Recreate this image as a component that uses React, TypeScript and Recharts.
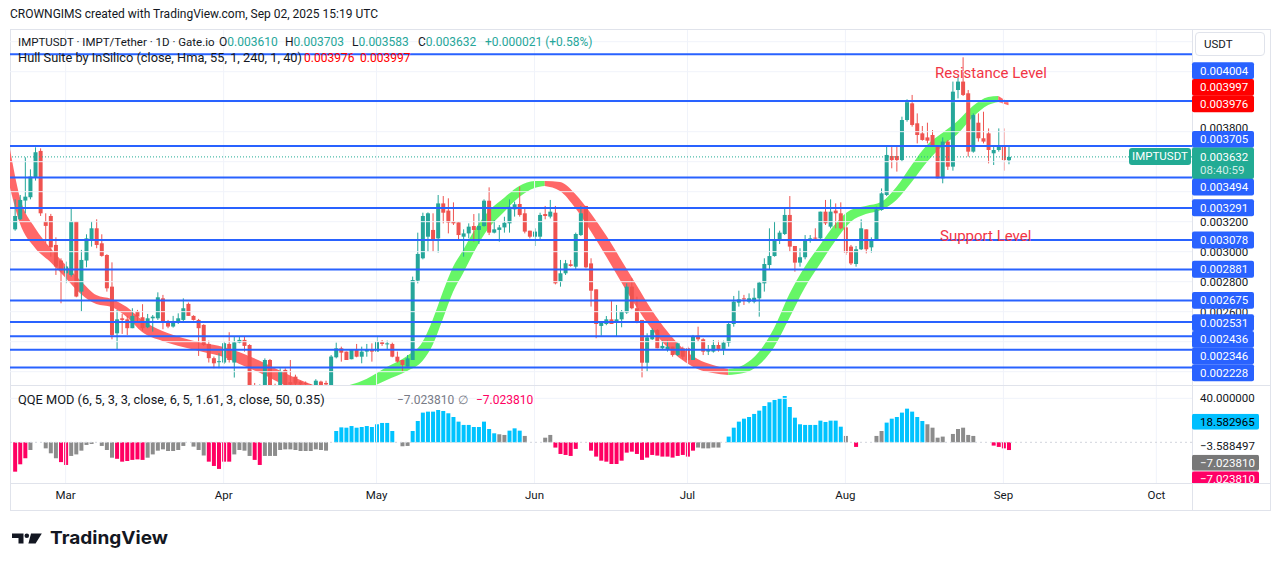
import React from "react";
import { Area, Bar, Cell, ComposedChart, ReferenceLine, XAxis, YAxis } from "recharts";

// day 0 = 19 Feb 2025, one daily candle per day up to 2 Sep 2025 (day 195)
const monthDays = [10, 41, 71, 102, 132, 163, 194, 224];
const monthLabels = ["Mar", "Apr", "May", "Jun", "Jul", "Aug", "Sep", "Oct"];

// IMPT/USDT daily candles, in micro-USDT (1e-6)
const opens = [
  3149, 3216, 3341, 3363, 3496, 3672, 3201, 3238, 3045, 2941, 2856, 2845, 3201, 2734, 2941, 3083, 3156, 3056, 2978, 2767,
  2456, 2556, 2549, 2490, 2601, 2563, 2496, 2556, 2556, 2689, 2534, 2501, 2527, 2545, 2652, 2572, 2545, 2512, 2385, 2290,
  2265, 2261, 2385, 2261, 2394, 2412, 2378, 2100, 2070, 2100, 2278, 2110, 2100, 2212, 2130, 2167, 2134, 2125, 2110, 2111,
  2134, 2125, 2111, 2296, 2356, 2334, 2283, 2345, 2300, 2334, 2345, 2334, 2396, 2382, 2385, 2300, 2278, 2234, 2278, 2807,
  2956, 3100, 3145, 3089, 3322, 3274, 3200, 3196, 3100, 3122, 3171, 3145, 3171, 3340, 3127, 3145, 3162, 3189, 3282, 3318,
  3256, 3140, 3100, 3100, 3251, 3234, 3260, 2800, 2856, 2916, 2900, 3111, 3305, 2922, 2749, 2505, 2518, 2549, 2527, 2549,
  2594, 2767, 2623, 2545, 2260, 2416, 2478, 2356, 2345, 2367, 2311, 2356, 2356, 2278, 2440, 2416, 2334, 2334, 2378, 2345,
  2394, 2518, 2660, 2689, 2667, 2667, 2689, 2789, 2911, 2971, 3074, 3118, 3245, 3038, 2927, 2963, 3074, 3094, 3089, 3267,
  3167, 3274, 3256, 3162, 3034, 2918, 3016, 3149, 3029, 3078, 3278, 3378, 3638, 3638, 3611, 3878, 3989, 3856, 3789, 3762,
  3778, 3711, 3489, 3734, 3567, 4078, 4134, 4056, 3667, 3860, 3756, 3789, 3656, 3678, 3705, 3610,
];
const highs = [
  3349, 3378, 3629, 3549, 3696, 3689, 3256, 3252, 3096, 2956, 2934, 3285, 3201, 3012, 3116, 3201, 3216, 3116, 2983, 2929,
  2612, 2585, 2572, 2623, 2612, 2650, 2585, 2578, 2729, 2712, 2545, 2572, 2589, 2689, 2661, 2576, 2552, 2516, 2407, 2301,
  2323, 2403, 2463, 2434, 2434, 2438, 2383, 2125, 2115, 2289, 2285, 2120, 2223, 2223, 2278, 2180, 2140, 2135, 2118, 2150,
  2140, 2140, 2311, 2394, 2367, 2334, 2345, 2385, 2367, 2385, 2389, 2434, 2411, 2407, 2394, 2334, 2278, 2311, 2834, 3127,
  3260, 3262, 3256, 3378, 3371, 3356, 3329, 3196, 3149, 3189, 3251, 3256, 3349, 3429, 3211, 3178, 3233, 3349, 3334, 3434,
  3289, 3140, 3156, 3260, 3305, 3345, 3305, 2945, 2945, 2945, 3127, 3305, 3305, 2956, 2749, 2527, 2571, 2671, 2645, 2611,
  2789, 2823, 2700, 2545, 2456, 2489, 2483, 2407, 2407, 2367, 2394, 2367, 2367, 2445, 2500, 2423, 2378, 2411, 2407, 2407,
  2534, 2705, 2740, 2712, 2722, 2756, 2800, 2956, 3156, 3200, 3140, 3296, 3371, 3038, 3023, 3111, 3111, 3156, 3267, 3345,
  3349, 3322, 3329, 3171, 3045, 3038, 3216, 3149, 3096, 3300, 3422, 3711, 3711, 3711, 3900, 4016, 4045, 3922, 3838, 3860,
  3811, 3711, 3762, 3745, 4134, 4167, 4296, 4078, 3922, 3922, 3933, 3822, 3711, 3822, 3822, 3703,
];
const lows = [
  3140, 3212, 3256, 3349, 3474, 3238, 3056, 2967, 2845, 2656, 2790, 2834, 2696, 2601, 2896, 3034, 3023, 2967, 2734, 2416,
  2350, 2452, 2445, 2490, 2527, 2474, 2490, 2467, 2545, 2483, 2490, 2494, 2518, 2534, 2572, 2541, 2305, 2372, 2261, 2223,
  2223, 2252, 2261, 2161, 2390, 2334, 2060, 2060, 2050, 2090, 2080, 2070, 2090, 2080, 2100, 2100, 2100, 2100, 2090, 2100,
  2100, 2100, 2100, 2289, 2267, 2278, 2283, 2296, 2256, 2300, 2267, 2334, 2372, 2345, 2296, 2260, 2200, 2234, 2278, 2789,
  2949, 3000, 3000, 2994, 3189, 3122, 3178, 3074, 2967, 3089, 3067, 3051, 3167, 3111, 3122, 3067, 3127, 3127, 3234, 3234,
  3122, 3089, 3038, 3078, 3216, 3222, 2782, 2767, 2845, 2900, 2878, 3105, 2889, 2634, 2423, 2440, 2510, 2518, 2434, 2496,
  2585, 2616, 2523, 2162, 2200, 2411, 2356, 2345, 2334, 2300, 2305, 2283, 2274, 2278, 2400, 2311, 2311, 2327, 2334, 2311,
  2367, 2500, 2634, 2645, 2656, 2656, 2567, 2734, 2878, 2967, 3051, 3111, 3000, 2867, 2900, 2949, 3060, 3078, 3078, 3178,
  3156, 3156, 3149, 2978, 2911, 2900, 3011, 2989, 2994, 3074, 3273, 3371, 3556, 3534, 3600, 3867, 3834, 3722, 3740, 3722,
  3700, 3489, 3456, 3545, 3540, 4022, 4038, 3634, 3660, 3734, 3722, 3589, 3578, 3667, 3540, 3583,
];
const closes = [
  3238, 3345, 3367, 3501, 3663, 3256, 3172, 3029, 2901, 2883, 2901, 3201, 2701, 2945, 3089, 3156, 3045, 2972, 2756, 2445,
  2549, 2545, 2490, 2572, 2567, 2490, 2556, 2567, 2696, 2534, 2501, 2538, 2556, 2623, 2572, 2545, 2490, 2378, 2290, 2256,
  2270, 2390, 2278, 2396, 2412, 2372, 2078, 2085, 2100, 2278, 2100, 2095, 2200, 2100, 2115, 2120, 2115, 2118, 2105, 2140,
  2111, 2115, 2301, 2356, 2327, 2278, 2345, 2300, 2334, 2345, 2334, 2400, 2385, 2389, 2300, 2267, 2245, 2289, 2811, 2985,
  3238, 3256, 3078, 3322, 3260, 3194, 3189, 3111, 3122, 3167, 3145, 3171, 3340, 3127, 3149, 3162, 3193, 3300, 3316, 3245,
  3134, 3100, 3134, 3245, 3238, 3267, 2789, 2856, 2923, 2905, 3118, 3256, 2896, 2740, 2518, 2527, 2549, 2518, 2549, 2600,
  2767, 2623, 2534, 2260, 2429, 2478, 2356, 2372, 2367, 2311, 2389, 2300, 2278, 2434, 2416, 2334, 2349, 2378, 2345, 2394,
  2518, 2667, 2682, 2682, 2689, 2693, 2794, 2918, 2971, 3078, 3127, 3245, 3034, 2927, 2963, 3082, 3089, 3087, 3267, 3189,
  3267, 3256, 3156, 2994, 2922, 3016, 3156, 3016, 3082, 3282, 3389, 3645, 3611, 3611, 3878, 4000, 3845, 3778, 3745, 3740,
  3711, 3489, 3734, 3567, 4067, 4134, 4045, 3667, 3911, 3756, 3734, 3678, 3678, 3705, 3611, 3632,
];

// Hull Suite band (both hull lines), micro-USDT, read at sparse days
const hullDays = [
  -1, 1, 4, 7, 10, 13, 16, 19, 22, 25, 29, 33, 37, 41, 45, 49, 53, 57, 61,
  61, 65, 69, 73, 77, 80, 82, 84, 86, 88, 90, 93, 96, 99, 102, 104,
  104, 107, 110, 113, 116, 119, 122, 125, 128, 131, 134, 137, 140,
  140, 143, 146, 149, 152, 155, 158, 161, 164, 167, 170, 173, 176, 179, 182, 185, 188, 191, 193,
  193, 195,
];
const hullLow = [
  3438, 3191, 3025, 2931, 2825, 2718, 2651, 2631, 2565, 2465, 2405, 2365, 2331, 2298, 2238, 2178, 2111, 2065, 2045,
  2045, 2051, 2085, 2145, 2205, 2271, 2378, 2551, 2731, 2858, 2991, 3158, 3265, 3365, 3425, 3438,
  3438, 3405, 3291, 3138, 2971, 2798, 2631, 2485, 2365, 2278, 2218, 2191, 2178,
  2178, 2191, 2245, 2365, 2558, 2758, 2918, 3071, 3198, 3251, 3278, 3345, 3465, 3598, 3705, 3785, 3898, 3978, 3998,
  3998, 3976,
];
const hullHigh = [
  3698, 3365, 3158, 3025, 2911, 2805, 2711, 2685, 2631, 2545, 2471, 2425, 2391, 2365, 2318, 2258, 2191, 2131, 2085,
  2085, 2105, 2151, 2231, 2305, 2398, 2545, 2731, 2898, 3011, 3131, 3271, 3358, 3438, 3471, 3471,
  3471, 3465, 3385, 3258, 3111, 2945, 2778, 2611, 2471, 2358, 2285, 2245, 2218,
  2218, 2245, 2331, 2491, 2718, 2898, 3045, 3185, 3278, 3305, 3331, 3431, 3578, 3711, 3791, 3871, 3971, 4031, 4038,
  4038, 3997,
];
const hullTrend = [
  ...Array(19).fill("down"),
  ...Array(16).fill("up"),
  ...Array(13).fill("down"),
  ...Array(19).fill("up"),
  ...Array(2).fill("down"),
];

// drawn horizontal levels, micro-USDT
const levels = [4316, 4004, 3705, 3494, 3291, 3078, 2881, 2675, 2531, 2436, 2346, 2228];
const gridPrices = [2200, 2400, 2600, 2800, 3000, 3200, 3400, 3600, 3800, 4000, 4200, 4400];
const lastClose = 3632;

// price scale labels: plain ticks first, then badges (stacked like TradingView)
const priceAxisText = [
  "0.003800", "0.003200", "0.003000", "0.002800", "0.002600",
  "0.004004", "0.003997", "0.003976", "0.003705", "0.003632", "0.003494", "0.003291",
  "0.003078", "0.002881", "0.002675", "0.002531", "0.002436", "0.002346", "0.002228",
];
const priceAxisAt = [
  3825, 3200, 3000, 2800, 2600,
  4207, 4096, 3985, 3749, 3632, 3431, 3293, 3078, 2883, 2676, 2527, 2416, 2305, 2193,
];
const priceAxisKind = [
  "text", "text", "text", "text", "text",
  "blue", "red", "red", "blue", "last", "blue", "blue", "blue", "blue", "blue", "blue", "blue", "blue", "blue",
];

// QQE MOD histogram, one value per day (null = no bar)
const qqeValues = [
  -26.7, -20, -14.5, -7, null, null, -5.5, -10, -14.5, -18,
  -20.6, -12.4, -11, -7.6, -2.4, -1.5, null, -3.3, -7, -14,
  -15, -17.6, -17, -16, -15.5, -16, -14, -11, -7.6, -6.4,
  -7.9, -7.9, -7, -3.3, null, -3.9, -7, -12, -17.6, -21.5,
  -24.2, -17.6, -17.6, -11, -7, -7.6, -12.4, -16, -20.6, -12.4,
  -12.4, -12.4, -7, -6.4, -6.4, -7, -7.9, -7.9, -7.9, -6.4,
  -7, -7.6, null, 10.3, 13.6, 13.3, 14.8, 13.3, 13.9, 14.8,
  13.9, 16.4, 17.6, 17.6, 10.3, null, -3.6, -3.3, 10.3, 19.4,
  27, 27.9, 27.9, 29.4, 28.5, 26.4, 23, 18.8, 15.8, 15.8,
  13.9, 13.9, 18.8, 12.1, 8.2, 7.3, 6.7, 10.6, 12.7, 10.6,
  5.8, null, null, null, 4.2, 6.7, -4.8, -10.6, -11.5, -12.4,
  -6, null, null, -7.6, -13, -16.7, -17.6, -19.7, -19.7, -16.7,
  -9.4, -8.5, -10.6, -16, -13.9, -11.5, -12.1, -13, -13, -13.9,
  -12.4, -11.5, -13, -7.6, -4.8, -5.5, -5.5, -4.8, -4.8, null,
  5.2, 13.3, 18.8, 21.5, 23, 25.8, 28.8, 33, 36.4, 38.5,
  40, 42.1, 32.1, 22.4, 16.4, 15.8, 15.8, 15.8, 19.7, 18.5,
  19.7, 19.7, 14.2, 5.8, null, -4.2, null, null, null, 5.8,
  10.3, 17.9, 21.5, 23, 27, 30.6, 27.9, 23, 19.4, 16.4,
  13.3, 4.2, 5.2, null, 7.6, 12.1, 13.3, 6.7, 5.8, null,
  null, null, -3, -4.2, -5.5, -7.02381,
];
// U = above upper band (blue), D = below lower band (red), N = neutral (gray)
const qqeState =
  "DDDN..NNNDDNNNNN.NNNDDDDDDNNNNNNNN.NNNDDDDDNNNNDDNNNNNNNNNNNNN.UUUUUUUUUUUU.NNUUUUUUUUUUUUUUUUUNNUUUN...NNDDDD" +
  "D..DDDDDDDDDDDDDDDDDDDDDNNNNN.UUUUUUUUUUUUUUUUUUUUUUUN.D...NNUUUUUUUUNNNN.NNNNN...DDDD";

const qqeAxisText = ["40.000000", "\u22123.588497", "18.582965", "\u22127.023810", "\u22127.023810"];
const qqeAxisAt = [40, -3.588, 18.58, -18.5, -33.6];
const qqeAxisKind = ["text", "text", "cyan", "gray", "magenta"];

const MICRO = 1e-6;
const DAY_MIN = -0.92;
const DAY_MAX = 231;
const PRICE_MIN = 0.0021113;
const PRICE_MAX = 0.004478;
const QQE_MIN = -37;
const QQE_MAX = 51.2;
const QQE_PLOT_H = 97;
const AXIS_X = 1182;

const UP = "#26a69a";
const DOWN = "#ef5350";
const LEVEL = "#2962ff";
const GRID = "#f0f3fa";
const BORDER = "#e0e3eb";
const TEXT = "#131722";
const FONT = "Roboto, 'Liberation Sans', sans-serif";

const stateColor: Record<string, string> = { U: "#00c3ff", D: "#ff0062", N: "#8c8c8c" };
const badgeColor: Record<string, string> = {
  blue: LEVEL,
  red: "#ff0000",
  last: "#22ab94",
  cyan: "#00bfff",
  gray: "#787878",
  magenta: "#ff0066",
};

type Row = { day: number; [key: string]: any };

const priceRows: Row[] = [];
for (let d = -1; d <= 195; d++) {
  const row: Row = { day: d };
  if (d >= 0) {
    row.range = [lows[d] * MICRO, highs[d] * MICRO];
    row.open = opens[d] * MICRO;
    row.close = closes[d] * MICRO;
  }
  priceRows.push(row);
}

const hullSegments: { key: string; trend: string }[] = [];
hullDays.forEach((d, k) => {
  if (k === 0 || hullTrend[k] !== hullTrend[k - 1]) {
    hullSegments.push({ key: `hull${hullSegments.length}`, trend: hullTrend[k] });
  }
  const seg = hullSegments[hullSegments.length - 1];
  priceRows[d + 1][seg.key] = [hullLow[k] * MICRO, hullHigh[k] * MICRO];
});

const qqeRows = qqeValues.map((v, d) => ({ day: d, qqe: v }));

function Candle(props: any) {
  const { x, y, width, height, payload } = props;
  if (!payload || !payload.range || height == null || isNaN(y)) return null;
  const [lo, hi] = payload.range;
  const k = hi - lo > 0 ? height / (hi - lo) : 0;
  const yOpen = y + (hi - payload.open) * k;
  const yClose = y + (hi - payload.close) * k;
  const color = payload.close >= payload.open ? UP : DOWN;
  const cx = x + width / 2;
  return (
    <g>
      <line x1={cx} x2={cx} y1={y} y2={y + height} stroke={color} strokeWidth={1} />
      <rect
        x={x}
        y={Math.min(yOpen, yClose)}
        width={width}
        height={Math.max(Math.abs(yOpen - yClose), 1)}
        fill={color}
      />
    </g>
  );
}

function nearestIndex(list: number[], value: number) {
  let best = 0;
  list.forEach((v, i) => {
    if (Math.abs(v - value) < Math.abs(list[best] - value)) best = i;
  });
  return best;
}

function PriceTick(props: any) {
  const { y, payload } = props;
  const i = nearestIndex(priceAxisAt, payload.value / MICRO);
  const kind = priceAxisKind[i];
  const text = priceAxisText[i];
  if (kind === "text") {
    return (
      <text x={AXIS_X + 8} y={y} dominantBaseline="central" fontSize={11.5} fill={TEXT} fontFamily={FONT}>
        {text}
      </text>
    );
  }
  if (kind === "last") {
    return (
      <g>
        <rect x={AXIS_X} y={y - 9.4} width={62} height={31.6} rx={2} fill={badgeColor.last} />
        <text x={AXIS_X + 8} y={y} dominantBaseline="central" fontSize={11.5} fill="#fff" fontFamily={FONT}>
          {text}
        </text>
        <text x={AXIS_X + 8} y={y + 13.6} dominantBaseline="central" fontSize={11.5} fill="rgba(255,255,255,0.8)" fontFamily={FONT}>
          08:40:59
        </text>
      </g>
    );
  }
  return (
    <g>
      <rect x={AXIS_X} y={y - 8.4} width={62} height={16.8} rx={2} fill={badgeColor[kind]} />
      <text x={AXIS_X + 8} y={y} dominantBaseline="central" fontSize={11.5} fill="#fff" fontFamily={FONT}>
        {text}
      </text>
    </g>
  );
}

function QqeTick(props: any) {
  const { y, payload } = props;
  const i = nearestIndex(qqeAxisAt, payload.value);
  const kind = qqeAxisKind[i];
  const text = qqeAxisText[i];
  if (kind === "text") {
    return (
      <text x={AXIS_X + 8} y={y} dominantBaseline="central" fontSize={11.5} fill={TEXT} fontFamily={FONT}>
        {text}
      </text>
    );
  }
  // badges are cut off by the bottom of the pane, as on TradingView
  const top = y - 8;
  const h = Math.min(16, QQE_PLOT_H - top);
  return (
    <g>
      <svg x={AXIS_X} y={top} width={67} height={h} overflow="hidden">
        <rect x={0} y={0} width={67} height={16} rx={2} fill={badgeColor[kind]} />
        <text
          x={8}
          y={8}
          dominantBaseline="central"
          fontSize={11.5}
          fill={kind === "cyan" ? "#000" : "#fff"}
          fontFamily={FONT}
        >
          {text}
        </text>
      </svg>
    </g>
  );
}

function MonthTick(props: any) {
  const { x, y, payload } = props;
  const i = monthDays.indexOf(payload.value);
  return (
    <text x={x} y={y + 4} textAnchor="middle" dominantBaseline="central" fontSize={11.5} fill={TEXT} fontFamily={FONT}>
      {monthLabels[i]}
    </text>
  );
}

const abs = (left: number, top: number, extra: React.CSSProperties = {}): React.CSSProperties => ({
  position: "absolute",
  left,
  top,
  ...extra,
});

const legendText: React.CSSProperties = { fontSize: 12, lineHeight: "16px", whiteSpace: "nowrap" };

function Line({ x, y, w, h }: { x: number; y: number; w: number; h: number }) {
  return <div style={abs(x, y, { width: w, height: h, background: BORDER })} />;
}

function Ohlc({ left, letter, value }: { left: number; letter: string; value: string }) {
  return (
    <div style={abs(left, 34, legendText)}>
      {letter}
      <span style={{ color: UP }}>{value}</span>
    </div>
  );
}

export default function App() {
  return (
    <div
      style={{
        position: "absolute",
        left: 0,
        top: 0,
        width: 1281,
        height: 571,
        background: "#fff",
        fontFamily: FONT,
        color: TEXT,
        overflow: "hidden",
      }}
    >
      <div style={abs(10, 6, { fontSize: 12, lineHeight: "16px", whiteSpace: "nowrap" })}>
        CROWNGIMS created with TradingView.com, Sep 02, 2025 15:19 UTC
      </div>

      {/* frame */}
      <Line x={10} y={29} w={1260} h={1} />
      <Line x={10} y={510} w={1260} h={1} />
      <Line x={10} y={29} w={1} h={482} />
      <Line x={1270} y={29} w={1} h={482} />
      <Line x={1192} y={29} w={1} h={482} />
      <Line x={10} y={385} w={1260} h={1} />
      <Line x={10} y={483} w={1260} h={1} />

      <div style={abs(10, 30)}>
        <ComposedChart width={1260} height={355} data={priceRows} margin={{ top: 0, right: 0, bottom: 0, left: 0 }}>
          <XAxis dataKey="day" type="number" domain={[DAY_MIN, DAY_MAX]} allowDataOverflow hide />
          <YAxis
            orientation="right"
            width={78}
            type="number"
            domain={[PRICE_MIN, PRICE_MAX]}
            allowDataOverflow
            ticks={priceAxisAt.map((p) => p * MICRO)}
            interval={0}
            tick={<PriceTick />}
            axisLine={false}
            tickLine={false}
          />
          {gridPrices.map((p) => (
            <ReferenceLine key={`g${p}`} y={p * MICRO} stroke={GRID} strokeWidth={1} />
          ))}
          {monthDays.map((d) => (
            <ReferenceLine key={`m${d}`} x={d} stroke={GRID} strokeWidth={1} />
          ))}
          {hullSegments.map((s) => (
            <Area
              key={s.key}
              dataKey={s.key}
              type="monotone"
              connectNulls
              stroke="none"
              fill={s.trend === "up" ? "#55f555" : "#ff5858"}
              fillOpacity={0.9}
              isAnimationActive={false}
            />
          ))}
          <Bar dataKey="range" barSize={4} shape={<Candle />} isAnimationActive={false} />
          <ReferenceLine y={lastClose * MICRO} stroke="#22ab94" strokeDasharray="1 2" />
          {levels.map((p) => (
            <ReferenceLine key={`l${p}`} y={p * MICRO} stroke={LEVEL} strokeWidth={2} />
          ))}
        </ComposedChart>
      </div>

      <div style={abs(10, 386)}>
        <ComposedChart width={1260} height={124} data={qqeRows} margin={{ top: 0, right: 0, bottom: 0, left: 0 }}>
          <XAxis
            dataKey="day"
            type="number"
            domain={[DAY_MIN, DAY_MAX]}
            allowDataOverflow
            ticks={monthDays}
            interval={0}
            height={27}
            axisLine={false}
            tickLine={false}
            tick={<MonthTick />}
          />
          <YAxis
            orientation="right"
            width={78}
            type="number"
            domain={[QQE_MIN, QQE_MAX]}
            allowDataOverflow
            ticks={qqeAxisAt}
            interval={0}
            tick={<QqeTick />}
            axisLine={false}
            tickLine={false}
          />
          {monthDays.map((d) => (
            <ReferenceLine key={`qm${d}`} x={d} stroke={GRID} strokeWidth={1} />
          ))}
          <ReferenceLine y={40} stroke={GRID} strokeWidth={1} />
          <ReferenceLine y={0} stroke="#d1d4dc" strokeDasharray="2 3" />
          <Bar dataKey="qqe" barSize={4} isAnimationActive={false}>
            {qqeRows.map((r, i) => (
              <Cell key={`c${r.day}`} fill={stateColor[qqeState[i]] || "transparent"} />
            ))}
          </Bar>
        </ComposedChart>
      </div>

      {/* legends */}
      <div style={abs(18, 34, { ...legendText, fontSize: 11.5 })}>IMPTUSDT · IMPT/Tether · 1D · Gate.io</div>
      <Ohlc left={219} letter="O" value="0.003610" />
      <Ohlc left={285} letter="H" value="0.003703" />
      <Ohlc left={352} letter="L" value="0.003583" />
      <Ohlc left={418} letter="C" value="0.003632" />
      <div style={abs(485, 34, { ...legendText, color: UP })}>+0.000021 (+0.58%)</div>

      <div style={abs(18, 50, { ...legendText, fontSize: 12.8 })}>
        Hull Suite by InSilico (close, Hma, 55, 1, 240, 1, 40)
      </div>
      <div style={abs(304, 50, { ...legendText, color: "#ff0000" })}>0.003976</div>
      <div style={abs(360, 50, { ...legendText, color: "#ff0000" })}>0.003997</div>

      <div style={abs(18, 392, { ...legendText, fontSize: 12.8 })}>
        QQE MOD (6, 5, 3, 3, close, 6, 5, 1.61, 3, close, 50, 0.35)
      </div>
      <div style={abs(397, 392, { ...legendText, color: "#787b86" })}>{"\u22127.023810"}</div>
      <div style={abs(458, 392, { ...legendText, color: "#787b86" })}>∅</div>
      <div style={abs(476, 392, { ...legendText, color: "#ff0062" })}>{"\u22127.023810"}</div>

      {/* annotations */}
      <div style={abs(935, 63, { fontSize: 15, lineHeight: "20px", color: "#f23645", whiteSpace: "nowrap" })}>
        Resistance Level
      </div>
      <div style={abs(940, 226, { fontSize: 15, lineHeight: "20px", color: "#f23645", whiteSpace: "nowrap" })}>
        Support Level
      </div>

      {/* price scale header and symbol label */}
      <div
        style={abs(1195, 32, {
          width: 70,
          height: 24,
          border: `1px solid ${BORDER}`,
          borderRadius: 4,
          boxSizing: "border-box",
          fontSize: 11.5,
          lineHeight: "22px",
          paddingLeft: 8,
          background: "#fff",
        })}
      >
        USDT
      </div>
      <div
        style={abs(1129, 148, {
          width: 62,
          height: 17,
          background: "#22ab94",
          borderRadius: 3,
          color: "#fff",
          fontSize: 11.5,
          lineHeight: "17px",
          textAlign: "center",
        })}
      >
        IMPTUSDT
      </div>

      {/* logo */}
      <svg style={abs(0, 520)} width={200} height={40}>
        <path d="M12 13.5 H23.5 V23.5 H18.5 V18 H12 Z" fill={TEXT} />
        <circle cx={26.8} cy={15.8} r={2.3} fill={TEXT} />
        <path d="M31 13.5 H41.8 L35.6 23.5 H28.4 Z" fill={TEXT} />
        <text
          x={50}
          y={24.3}
          fontSize={18}
          fontWeight={700}
          fill={TEXT}
          fontFamily="Inter, 'Liberation Sans', sans-serif"
          textLength={118}
          lengthAdjust="spacingAndGlyphs"
        >
          TradingView
        </text>
      </svg>
    </div>
  );
}
